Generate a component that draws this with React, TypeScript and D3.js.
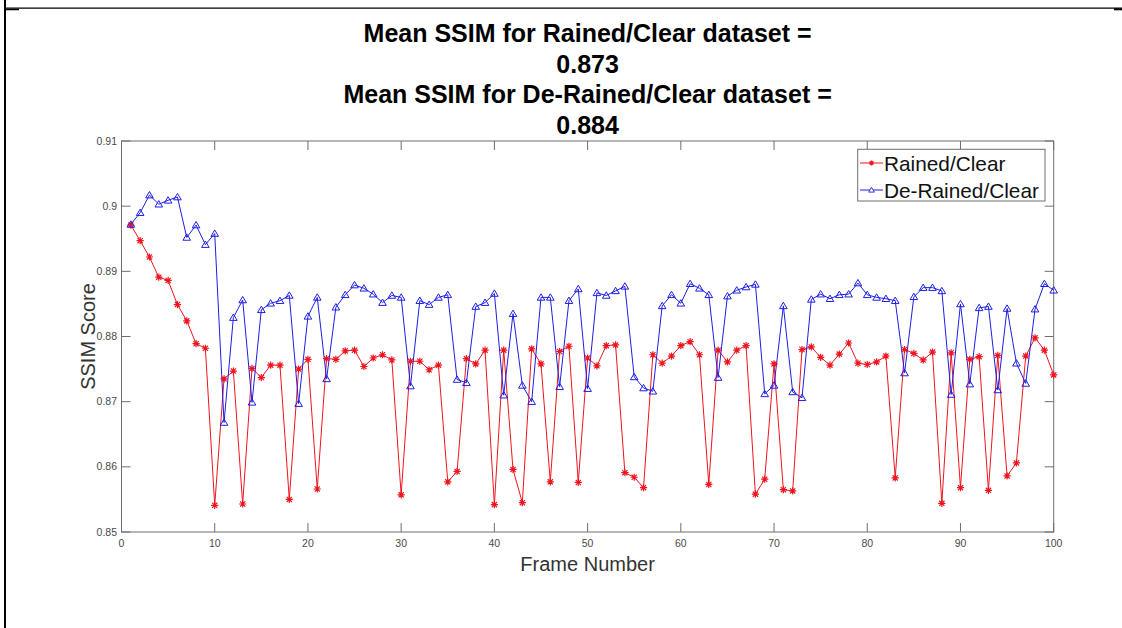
import React from "react";
import * as d3 from "d3";

const frames: number[] = Array.from({ length: 100 }, (_, i) => i + 1);

const rainedClear: number[] = [
  0.8971, 0.8947, 0.8922, 0.8891, 0.8886, 0.8849, 0.8824, 0.8789, 0.8782, 0.8541,
  0.8735, 0.8747, 0.8543, 0.8751, 0.8737, 0.8756, 0.8756, 0.855, 0.875, 0.8765,
  0.8566, 0.8766, 0.8765, 0.8778, 0.8779, 0.8754, 0.8767, 0.8772, 0.8764, 0.8557,
  0.8762, 0.8762, 0.8749, 0.8756, 0.8577, 0.8593, 0.8766, 0.8758, 0.8779, 0.8542,
  0.8779, 0.8596, 0.8545, 0.8781, 0.8758, 0.8577, 0.8777, 0.8785, 0.8576, 0.8767,
  0.8755, 0.8786, 0.8787, 0.8591, 0.8584, 0.8568, 0.8772, 0.8759, 0.877, 0.8786,
  0.8792, 0.8772, 0.8573, 0.8779, 0.8761, 0.8779, 0.8786, 0.8558, 0.8581, 0.8758,
  0.8565, 0.8563, 0.878, 0.8784, 0.8768, 0.8756, 0.8773, 0.879, 0.8759, 0.8757,
  0.8761, 0.877, 0.8583, 0.878, 0.8774, 0.8764, 0.8776, 0.8544, 0.8775, 0.8568,
  0.8765, 0.8769, 0.8564, 0.8771, 0.8586, 0.8606, 0.877, 0.8798, 0.8779, 0.8741,
];

const deRainedClear: number[] = [
  0.8972, 0.899, 0.9017, 0.9003, 0.9009, 0.9014, 0.8952, 0.8971, 0.8941, 0.8958,
  0.8668, 0.8829, 0.8856, 0.8699, 0.8841, 0.8851, 0.8855, 0.8863, 0.8697, 0.8831,
  0.886, 0.8735, 0.8845, 0.8864, 0.8879, 0.8874, 0.8865, 0.8852, 0.8863, 0.886,
  0.8724, 0.8855, 0.8849, 0.886, 0.8864, 0.8734, 0.8729, 0.8846, 0.8852, 0.8866,
  0.871, 0.8835, 0.8725, 0.87, 0.886, 0.886, 0.8723, 0.8855, 0.8873, 0.872,
  0.8867, 0.8863, 0.887, 0.8877, 0.8738, 0.8721, 0.8716, 0.8847, 0.8864, 0.8851,
  0.8881, 0.8874, 0.8864, 0.8737, 0.8862, 0.8871, 0.8876, 0.888, 0.8712, 0.8725,
  0.8847, 0.8715, 0.8706, 0.8857, 0.8865, 0.8858, 0.8864, 0.8865, 0.8882, 0.8864,
  0.886, 0.8858, 0.8855, 0.8744, 0.8861, 0.8875, 0.8875, 0.887, 0.8711, 0.885,
  0.8727, 0.8844, 0.8846, 0.8718, 0.8843, 0.8759, 0.8728, 0.8842, 0.8881, 0.8871,
];

const xTicks: number[] = [0, 10, 20, 30, 40, 50, 60, 70, 80, 90, 100];
const yTicks: number[] = [0.85, 0.86, 0.87, 0.88, 0.89, 0.9, 0.91];
const yTickLabels: string[] = ["0.85", "0.86", "0.87", "0.88", "0.89", "0.9", "0.91"];

const titleLines: string[] = [
  "Mean SSIM for Rained/Clear dataset =",
  "0.873",
  "Mean SSIM for De-Rained/Clear dataset =",
  "0.884",
];
const seriesNames: string[] = ["Rained/Clear", "De-Rained/Clear"];

const W = 1122;
const H = 628;
const L = 121.5;
const R = 1053.7;
const T = 141;
const B = 532;
const FONT = "'Liberation Sans', Arial, Helvetica, sans-serif";
const AXIS = "#6e6e6e";
const TICKTXT = "#4a4a4a";
const RED = "#f0141e";
const BLUE = "#1e1ee6";

function asterisk(s: number): string {
  const d = s * 0.72;
  return `M${-s},0L${s},0M0,${-s}L0,${s}M${-d},${-d}L${d},${d}M${-d},${d}L${d},${-d}`;
}
const tri = "M0,-3.6L3.8,2.8L-3.8,2.8Z";

export default function App() {
  const x = d3.scaleLinear().domain([0, 100]).range([L, R]);
  const y = d3.scaleLinear().domain([0.85, 0.91]).range([B, T]);
  const line = d3
    .line<number>()
    .x((_, i) => x(frames[i]))
    .y((v) => y(v));
  const tickLen = 9;

  return (
    <svg
      width={W}
      height={H}
      viewBox={`0 0 ${W} ${H}`}
      style={{ position: "absolute", left: 0, top: 0, background: "#fff" }}
      fontFamily={FONT}
    >
      <rect x={0} y={0} width={W} height={H} fill="#fff" />
      {/* outer frame */}
      <line x1={5} x2={5} y1={0} y2={H} stroke="#000" strokeWidth={2} />
      <line x1={5} x2={W} y1={8.2} y2={8.2} stroke="#000" strokeWidth={1.2} />
      <line x1={5} x2={19} y1={9.5} y2={9.5} stroke="#000" strokeWidth={1.5} />
      <line x1={1114} x2={W} y1={9.3} y2={9.3} stroke="#000" strokeWidth={2} />

      {/* title */}
      {titleLines.map((t, i) => (
        <text
          key={i}
          x={(L + R) / 2}
          y={42 + i * 30.7}
          textAnchor="middle"
          fontWeight="bold"
          fontSize={25}
          fill="#000"
        >
          {t}
        </text>
      ))}

      {/* axes box */}
      <rect x={L} y={T} width={R - L} height={B - T} fill="none" stroke={AXIS} strokeWidth={1} />
      {xTicks.map((t) => (
        <g key={"x" + t}>
          <line x1={x(t)} x2={x(t)} y1={B} y2={B - tickLen} stroke={AXIS} />
          <line x1={x(t)} x2={x(t)} y1={T} y2={T + tickLen} stroke={AXIS} />
          <text x={x(t)} y={547} textAnchor="middle" fontSize={10.5} fill={TICKTXT}>
            {t}
          </text>
        </g>
      ))}
      {yTicks.map((t, i) => (
        <g key={"y" + t}>
          <line x1={L} x2={L + tickLen} y1={y(t)} y2={y(t)} stroke={AXIS} />
          <line x1={R} x2={R - tickLen} y1={y(t)} y2={y(t)} stroke={AXIS} />
          <text x={117} y={y(t) + 3.5} textAnchor="end" fontSize={10.5} fill={TICKTXT}>
            {yTickLabels[i]}
          </text>
        </g>
      ))}

      {/* axis labels */}
      <text x={(L + R) / 2} y={571} textAnchor="middle" fontSize={20} fill="#333">
        Frame Number
      </text>
      <text
        transform={`translate(95,${(T + B) / 2}) rotate(-90)`}
        textAnchor="middle"
        fontSize={20}
        fill="#333"
      >
        SSIM Score
      </text>

      {/* series */}
      <path d={line(rainedClear) || ""} fill="none" stroke={RED} strokeWidth={1} />
      <path d={line(deRainedClear) || ""} fill="none" stroke={BLUE} strokeWidth={1} />
      {rainedClear.map((v, i) => (
        <path
          key={"r" + i}
          d={asterisk(3.6)}
          transform={`translate(${x(frames[i])},${y(v)})`}
          fill="none"
          stroke={RED}
          strokeWidth={1.2}
        />
      ))}
      {deRainedClear.map((v, i) => (
        <path
          key={"b" + i}
          d={tri}
          transform={`translate(${x(frames[i])},${y(v)})`}
          fill="none"
          stroke={BLUE}
          strokeWidth={1}
        />
      ))}

      {/* legend */}
      <rect x={857.7} y={149.3} width={187.3} height={51.7} fill="#fff" stroke={AXIS} strokeWidth={1} />
      <line x1={860} x2={883} y1={163} y2={163} stroke={RED} />
      <path d={asterisk(2.5)} transform="translate(871.5,163)" fill="none" stroke={RED} strokeWidth={1.2} />
      <text x={884} y={170.5} fontSize={20.8} fill="#111">
        {seriesNames[0]}
      </text>
      <line x1={860} x2={883} y1={190} y2={190} stroke={BLUE} />
      <path d={tri} transform="translate(871.5,190) scale(0.75)" fill="#fff" stroke={BLUE} strokeWidth={1.2} />
      <text x={884} y={197.5} fontSize={20.8} fill="#111">
        {seriesNames[1]}
      </text>
    </svg>
  );
}
